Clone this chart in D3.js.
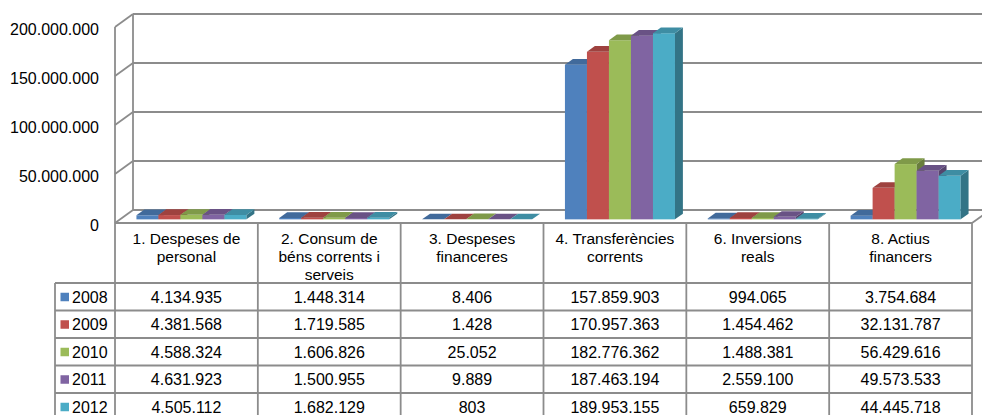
<!DOCTYPE html>
<html>
<head>
<meta charset="utf-8">
<script src="https://cdn.jsdelivr.net/npm/d3@7"></script>
<style>
  html, body { margin: 0; padding: 0; background: #fff; }
  svg { display: block; font-family: "Liberation Sans", Arial, sans-serif; }
</style>
</head>
<body>
<svg id="chart" width="982" height="415"></svg>
<script>
// ---- data ----
const categories = [
  "1. Despeses de\npersonal",
  "2. Consum de\nbéns corrents i\nserveis",
  "3. Despeses\nfinanceres",
  "4. Transferències\ncorrents",
  "6. Inversions\nreals",
  "8. Actius\nfinancers"
];
const years = ["2008", "2009", "2010", "2011", "2012"];
const values2008 = [4134935, 1448314, 8406, 157859903, 994065, 3754684];
const values2009 = [4381568, 1719585, 1428, 170957363, 1454462, 32131787];
const values2010 = [4588324, 1606826, 25052, 182776362, 1488381, 56429616];
const values2011 = [4631923, 1500955, 9889, 187463194, 2559100, 49573533];
const values2012 = [4505112, 1682129, 803, 189953155, 659829, 44445718];
const yTicks = [0, 50000000, 100000000, 150000000, 200000000];
const colors = ["#4F81BD", "#C0504D", "#9BBB59", "#8064A2", "#4BACC6"];

const series = [values2008, values2009, values2010, values2011, values2012];

// ---- layout ----
const svg = d3.select("#chart");
const locale = d3.formatLocale({ decimal: ",", thousands: ".", grouping: [3], currency: ["", ""] });
const fmt = locale.format(",d");

const left = 115, right = 972, floorY = 223, topY = 27;
const DX = 18, DY = -13;              // depth of the plot box
const fFront = 0.28, fDepth = 0.44;    // bar position/thickness as depth fractions
const gridColor = "#8c8c8c";
const numSize = 16, headSize = 15.5;

const x = d3.scaleBand().domain(categories).range([left, right]).paddingInner(0).paddingOuter(0);
const xs = d3.scaleBand().domain(years).range([0, x.bandwidth()]).paddingInner(0).paddingOuter(0.745);
const y = d3.scaleLinear().domain([0, 200000000]).range([floorY, topY]);

const g = svg.append("g");

// back wall gridlines and left wall diagonals
yTicks.forEach(t => {
  const yy = y(t);
  g.append("line").attr("x1", left + DX).attr("y1", yy + DY).attr("x2", right + DX).attr("y2", yy + DY)
    .attr("stroke", gridColor).attr("stroke-width", 1.8);
  g.append("line").attr("x1", left).attr("y1", yy).attr("x2", left + DX).attr("y2", yy + DY)
    .attr("stroke", gridColor).attr("stroke-width", 1.8);
});
// verticals of left wall
g.append("line").attr("x1", left + DX).attr("y1", y(200000000) + DY).attr("x2", left + DX).attr("y2", y(0) + DY)
  .attr("stroke", gridColor).attr("stroke-width", 1.8);
g.append("line").attr("x1", left).attr("y1", y(200000000)).attr("x2", left).attr("y2", y(0))
  .attr("stroke", gridColor).attr("stroke-width", 1.8);
// floor right edge
g.append("line").attr("x1", right).attr("y1", floorY).attr("x2", right + DX).attr("y2", floorY + DY)
  .attr("stroke", gridColor).attr("stroke-width", 1.8);

// y tick labels
g.selectAll(".ytick").data(yTicks).enter().append("text")
  .attr("x", 99).attr("y", d => y(d) + 2).attr("dy", "0.35em")
  .attr("text-anchor", "end").attr("font-size", numSize).attr("fill", "#000")
  .text(d => fmt(d));

// bars
const offX = DX * fFront, offY = DY * fFront;
const dX = DX * fDepth, dY = DY * fDepth;
const shade = (c, k) => d3.color(c).darker(k).formatHex();

categories.forEach((cat, ci) => {
  years.forEach((yr, si) => {
    const v = series[si][ci];
    const bx = x(cat) + xs(yr) + offX;
    const w = xs.bandwidth();
    const yb = y(0) + offY;
    const yt = y(v) + offY;
    const c = colors[si];
    // front
    g.append("rect").attr("x", bx).attr("y", yt).attr("width", w).attr("height", Math.max(0, yb - yt))
      .attr("fill", c);
    // side
    g.append("path")
      .attr("d", `M${bx + w},${yt}L${bx + w + dX},${yt + dY}L${bx + w + dX},${yb + dY}L${bx + w},${yb}Z`)
      .attr("fill", shade(c, 1.1));
    // top
    g.append("path")
      .attr("d", `M${bx},${yt}L${bx + w},${yt}L${bx + w + dX},${yt + dY}L${bx + dX},${yt + dY}Z`)
      .attr("fill", shade(c, 0.55));
  });
});

// floor front line (drawn above bars' base)
g.append("line").attr("x1", left).attr("y1", floorY).attr("x2", right).attr("y2", floorY)
  .attr("stroke", gridColor).attr("stroke-width", 1.8);

// ---- data table ----
const tableColor = "#8c8c8c";
const legendLeft = 55;
const headerBottom = 283;
const rowH = 27.5;
const t = svg.append("g");

// horizontal lines
for (let r = 0; r <= years.length; r++) {
  const yy = headerBottom + r * rowH;
  t.append("line").attr("x1", legendLeft).attr("x2", right).attr("y1", yy).attr("y2", yy)
    .attr("stroke", tableColor).attr("stroke-width", 1.8);
}
// vertical lines
const colEdges = categories.map(c => x(c)).concat([right]);
colEdges.forEach(xx => {
  t.append("line").attr("x1", xx).attr("x2", xx).attr("y1", floorY).attr("y2", headerBottom + years.length * rowH)
    .attr("stroke", tableColor).attr("stroke-width", 1.8);
});
t.append("line").attr("x1", legendLeft).attr("x2", legendLeft).attr("y1", headerBottom).attr("y2", headerBottom + years.length * rowH)
  .attr("stroke", tableColor).attr("stroke-width", 1.8);

// headers
categories.forEach(cat => {
  const lines = cat.split("\n");
  const tx = t.append("text").attr("text-anchor", "middle").attr("font-size", headSize).attr("fill", "#000");
  lines.forEach((ln, i) => {
    tx.append("tspan").attr("x", x(cat) + x.bandwidth() / 2).attr("y", 239 + i * 18).attr("dy", "0.35em").text(ln);
  });
});

// rows
years.forEach((yr, si) => {
  const cy = headerBottom + si * rowH + rowH / 2 + 0.5;
  t.append("rect").attr("x", 60.5).attr("y", cy - 4.5).attr("width", 8.5).attr("height", 8.5).attr("fill", colors[si]);
  t.append("text").attr("x", 72).attr("y", cy).attr("dy", "0.35em").attr("font-size", numSize).attr("fill", "#000").text(yr);
  categories.forEach((cat, ci) => {
    t.append("text").attr("x", x(cat) + x.bandwidth() / 2).attr("y", cy).attr("dy", "0.35em")
      .attr("text-anchor", "middle").attr("font-size", numSize).attr("fill", "#000")
      .text(fmt(series[si][ci]));
  });
});
</script>
</body>
</html>
